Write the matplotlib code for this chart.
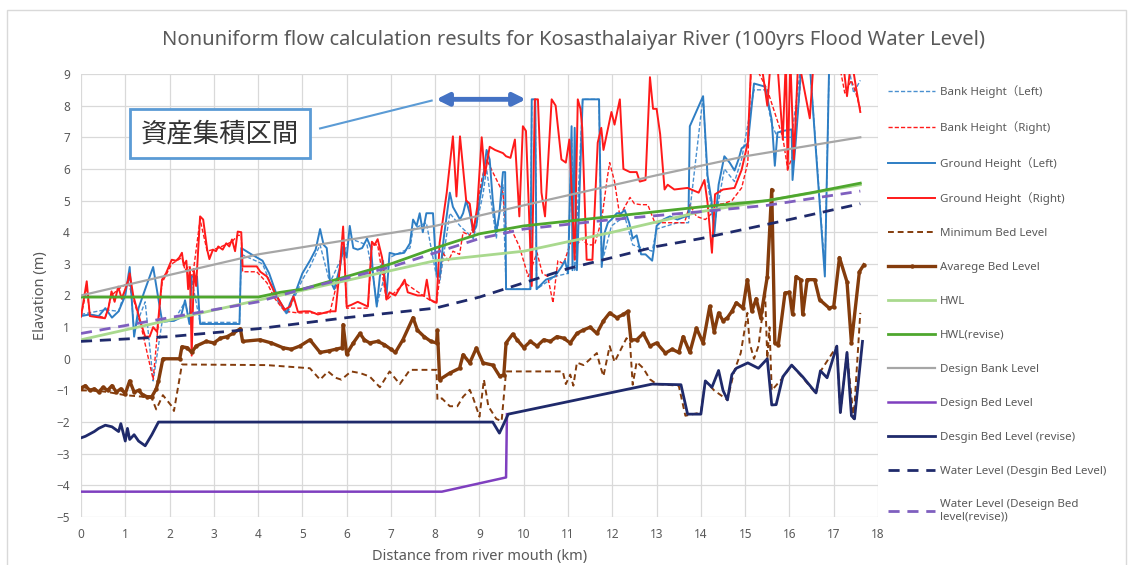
import matplotlib.pyplot as plt
from matplotlib.patches import Rectangle

plt.rcParams['font.family'] = ['Noto Sans', 'Noto Sans CJK JP', 'DejaVu Sans']

# distance from river mouth (km) / elevation (m) for each series
bank_left_x = [0, 0.55, 0.85, 1.1, 1.2, 1.45, 1.63, 1.83, 2.1, 2.35, 2.45, 2.5, 2.69, 3.58, 3.62,
               4.1, 4.45, 4.65, 5.0, 5.17, 5.4, 5.62, 5.92, 6.07, 6.46, 6.6, 6.68, 6.97, 7.43, 7.5,
               7.8, 8.03, 8.1, 8.33, 8.56, 8.86, 9.08, 9.16, 9.38, 9.53, 9.6, 10.15, 10.18, 10.26,
               10.29, 10.7, 11.0, 11.08, 11.15, 11.33, 11.7, 11.76, 11.98, 12.28, 12.46, 12.9, 13.0,
               13.47, 13.72, 14.05, 14.15, 14.3, 14.53, 14.76, 14.92, 15.2, 15.45, 15.6, 15.73,
               16.05, 16.28, 16.45, 16.8, 16.9, 17.3, 17.45, 17.6]
bank_left_y = [1.4, 1.55, 1.5, 2.6, 0.9, 1.8, -0.7, 1.15, 1.2, 1.8, 1.2, 2.5, 1.15, 1.15, 3.3,
               3.0, 1.8, 1.4, 2.5, 2.9, 3.6, 2.4, 3.3, 3.8, 3.6, 2.6, 1.7, 3.2, 3.5, 4.1,
               4.3, 2.6, 2.4, 4.6, 4.2, 3.8, 5.2, 6.0, 3.8, 5.5, 2.2, 2.2, 8.0, 8.0,
               2.2, 2.6, 2.7, 7.0, 2.8, 8.2, 8.2, 3.0, 4.2, 4.5, 3.6, 3.4, 4.1,
               4.3, 4.3, 8.3, 5.6, 4.2, 6.0, 5.6, 6.3, 8.5, 8.5, 7.4, 7.0,
               7.0, 9.5, 9.5, 2.8, 9.5, 9.5, 8.4, 8.8]

bank_right_x = [0, 0.13, 0.2, 0.55, 0.69, 0.84, 1.07, 1.18, 1.33, 1.63, 1.83, 2.05, 2.28, 2.35,
                2.42, 2.5, 2.55, 2.69, 2.85, 3.1, 3.41, 3.54, 3.62, 3.65, 3.97, 4.2, 4.38, 4.6,
                4.9, 5.62, 5.85, 5.92, 6.0, 6.48, 6.57, 6.7, 6.9, 7.31, 7.88, 8.03, 8.17, 8.3,
                8.4, 8.55, 8.63, 8.78, 8.9, 9.05, 9.16, 9.3, 9.53, 9.6, 9.75, 9.9, 10.1, 10.3,
                10.42, 10.54, 10.66, 10.77, 10.9, 11.08, 11.2, 11.3, 11.45, 11.6, 11.7, 11.77,
                11.88, 11.94, 12.05, 12.17, 12.28, 12.4, 12.5, 12.65, 12.8, 12.96, 13.3, 13.63,
                13.75, 13.9, 14.1, 14.25, 14.32, 14.5, 14.7, 14.92, 15.06, 15.14, 15.5, 15.85,
                15.96, 16.1, 16.3, 17.1, 17.25, 17.4, 17.5, 17.6]
bank_right_y = [1.35, 2.2, 1.4, 1.3, 2.0, 2.2, 2.4, 1.9, 1.2, -0.65, 2.4, 3.0, 3.2, 2.8,
                2.9, 2.6, 2.9, 4.4, 3.4, 3.5, 3.7, 3.9, 3.9, 2.75, 2.75, 2.4, 1.9, 1.5,
                1.45, 1.45, 2.8, 4.0, 1.6, 1.6, 3.6, 3.6, 1.85, 2.4, 1.85, 1.75, 3.35, 3.1,
                3.4, 3.3, 4.0, 3.9, 4.3, 5.66, 6.3, 5.9, 5.25, 4.1, 4.0, 3.55, 2.6, 3.35,
                2.7, 2.6, 1.77, 3.1, 3.0, 3.77, 3.6, 3.8, 3.6, 3.6, 4.1, 4.5,
                5.66, 6.2, 5.6, 4.5, 4.8, 5.1, 4.9, 4.87, 4.87, 4.3, 4.3, 4.3,
                4.87, 4.5, 4.4, 4.6, 4.87, 4.9, 5.0, 5.4, 6.2, 9.5, 8.5, 7.0,
                6.0, 6.5, 9.5, 9.5, 8.4, 8.8, 8.4, 7.9]

ground_left_x = [0.0, 0.2, 0.4, 0.55, 0.7, 0.85, 1.0, 1.1, 1.2, 1.3, 1.45, 1.63, 1.83, 2.1, 2.25,
                 2.35, 2.45, 2.5, 2.62, 2.69, 3.58, 3.62, 3.85, 4.1, 4.25, 4.45, 4.65, 4.72, 4.87,
                 5.0, 5.17, 5.3, 5.4, 5.48, 5.55, 5.62, 5.72, 5.85, 5.92, 6.0, 6.07, 6.15, 6.25,
                 6.35, 6.46, 6.55, 6.6, 6.68, 6.75, 6.82, 6.9, 6.97, 7.1, 7.3, 7.43, 7.5, 7.58,
                 7.65, 7.72, 7.8, 7.95, 8.03, 8.1, 8.2, 8.33, 8.4, 8.56, 8.63, 8.7, 8.78, 8.86,
                 8.93, 9.0, 9.08, 9.16, 9.23, 9.3, 9.38, 9.45, 9.53, 9.58, 9.6, 10.15, 10.18,
                 10.26, 10.29, 10.5, 10.7, 10.85, 10.93, 11.0, 11.08, 11.1, 11.15, 11.2, 11.33,
                 11.7, 11.76, 11.83, 11.9, 11.98, 12.1, 12.2, 12.28, 12.38, 12.46, 12.55, 12.65,
                 12.75, 12.9, 12.95, 13.0, 13.15, 13.3, 13.47, 13.65, 13.72, 13.75, 14.05, 14.15,
                 14.24, 14.3, 14.4, 14.53, 14.65, 14.76, 14.85, 14.92, 15.06, 15.2, 15.45, 15.6,
                 15.67, 15.73, 15.85, 16.05, 16.07, 16.15, 16.28, 16.45, 16.8, 16.9, 17.1, 17.4,
                 17.6]
ground_left_y = [1.35, 1.4, 1.35, 1.6, 1.3, 1.5, 2.0, 2.9, 0.7, 1.6, 2.2, 2.9, 1.2, 1.2, 1.3,
                 1.85, 1.1, 2.6, 2.6, 1.1, 1.1, 3.5, 3.3, 3.1, 2.7, 1.9, 1.45, 1.75, 2.2,
                 2.7, 3.1, 3.45, 4.1, 3.6, 3.5, 2.5, 2.2, 2.9, 3.55, 3.2, 4.2, 3.5, 3.45,
                 3.5, 3.8, 3.5, 2.6, 1.65, 2.6, 3.1, 2.0, 3.35, 3.3, 3.35, 3.65, 4.4, 4.2,
                 4.6, 4.0, 4.6, 4.6, 2.7, 2.6, 3.9, 5.25, 4.8, 4.4, 4.6, 5.0, 4.6, 4.0,
                 4.2, 5.0, 5.65, 6.6, 6.3, 5.0, 4.0, 4.6, 5.9, 5.9, 2.2, 2.2, 8.2,
                 8.2, 2.2, 2.5, 2.6, 2.9, 3.1, 2.7, 7.35, 2.8, 7.3, 2.8, 8.2,
                 8.2, 2.9, 4.0, 4.3, 4.4, 4.6, 4.6, 4.7, 4.3, 3.8, 3.9, 3.3,
                 3.3, 3.1, 3.6, 4.2, 4.4, 4.5, 4.4, 4.5, 4.5, 7.35, 8.3, 5.8,
                 5.0, 3.9, 5.5, 6.4, 6.2, 5.95, 6.3, 6.65, 6.8, 8.7, 8.6, 7.55,
                 6.1, 7.15, 7.2, 7.25, 5.65, 7.0, 9.5, 9.5, 2.6, 9.5, 9.5, 9.5,
                 9.5]

ground_right_x = [0.0, 0.13, 0.2, 0.54, 0.62, 0.69, 0.76, 0.84, 0.92, 1.0, 1.07, 1.1, 1.18, 1.33,
                  1.45, 1.55, 1.63, 1.72, 1.83, 1.92, 2.05, 2.15, 2.22, 2.28, 2.32, 2.38, 2.42,
                  2.46, 2.5, 2.55, 2.6, 2.69, 2.76, 2.85, 2.9, 2.98, 3.05, 3.1, 3.2, 3.28, 3.35,
                  3.41, 3.48, 3.54, 3.62, 3.65, 3.97, 4.05, 4.2, 4.38, 4.6, 4.72, 4.8, 4.9, 5.05,
                  5.17, 5.35, 5.62, 5.75, 5.85, 5.92, 5.96, 6.0, 6.1, 6.25, 6.4, 6.48, 6.57, 6.63,
                  6.7, 6.8, 6.9, 6.97, 7.1, 7.31, 7.38, 7.6, 7.75, 7.81, 7.88, 8.03, 8.1, 8.26,
                  8.4, 8.48, 8.56, 8.63, 8.7, 8.78, 8.86, 8.95, 9.05, 9.12, 9.23, 9.35, 9.53, 9.6,
                  9.7, 9.8, 9.9, 9.98, 10.05, 10.18, 10.25, 10.32, 10.4, 10.48, 10.63, 10.72,
                  10.85, 10.95, 11.03, 11.15, 11.22, 11.28, 11.32, 11.42, 11.55, 11.67, 11.75,
                  11.8, 11.98, 12.05, 12.17, 12.25, 12.4, 12.55, 12.62, 12.75, 12.85, 12.92, 13.0,
                  13.08, 13.18, 13.25, 13.4, 13.7, 13.95, 14.08, 14.15, 14.25, 14.32, 14.5, 14.76,
                  14.92, 15.06, 15.14, 15.35, 15.5, 15.58, 15.72, 15.85, 15.92, 15.96, 16.02,
                  16.1, 16.2, 16.46, 16.55, 17.2, 17.3, 17.4, 17.5, 17.6]
ground_right_y = [1.33, 2.45, 1.35, 1.28, 1.6, 2.13, 1.8, 2.28, 1.9, 2.2, 2.5, 2.7, 2.0, 1.23,
                  0.7, 0.7, 1.0, 0.85, 2.5, 2.7, 3.13, 3.1, 3.2, 3.35, 2.95, 3.1, 2.2,
                  2.9, 0.1, 2.8, 2.3, 4.5, 4.4, 3.45, 3.15, 3.45, 3.4, 3.55, 3.45, 3.65, 3.55,
                  3.77, 3.4, 4.02, 4.0, 2.92, 2.92, 2.75, 2.6, 2.08, 1.55, 1.65, 1.97, 1.48, 1.5,
                  1.5, 1.4, 1.5, 1.5, 2.92, 4.18, 2.9, 1.65, 1.7, 1.8, 1.7, 1.65, 3.7, 3.6,
                  3.78, 3.2, 1.87, 2.1, 2.0, 2.5, 2.1, 2.0, 2.0, 2.5, 1.87, 1.77, 3.67, 5.25,
                  7.03, 5.13, 7.03, 6.0, 5.0, 4.9, 4.0, 4.8, 7.0, 5.8, 6.7, 6.6, 6.5, 6.4,
                  6.35, 6.93, 4.5, 7.35, 7.2, 2.3, 8.2, 8.2, 5.25, 4.5, 8.2, 8.0,
                  6.3, 6.2, 6.93, 3.13, 8.2, 7.9, 7.3, 3.13, 3.13, 6.83, 7.3,
                  6.6, 7.8, 7.4, 8.2, 6.0, 5.9, 5.9, 5.6, 5.65, 8.9, 7.9, 7.9,
                  7.1, 5.35, 5.5, 5.35, 5.4, 5.25, 5.65, 4.93, 3.35, 5.2, 5.35, 5.4,
                  5.97, 6.83, 9.5, 9.5, 8.0, 9.5, 9.5, 6.93, 9.5, 5.97, 9.5,
                  6.3, 9.5, 7.6, 9.5, 9.5, 8.3, 9.5, 8.6, 7.8]

min_bed_x = [0, 0.3, 0.6, 1.0, 1.4, 1.6, 1.7, 1.85, 2.05, 2.1, 2.28, 4.2, 5.17, 5.4, 5.58, 5.75,
             5.88, 6.1, 6.3, 6.52, 6.75, 6.97, 7.2, 7.43, 8.03, 8.05, 8.15, 8.33, 8.5, 8.63,
             8.78, 8.86, 9.0, 9.1, 9.2, 9.38, 9.5, 9.6, 10.88, 10.95, 11.05, 11.12, 11.2, 11.35,
             11.65, 11.72, 11.8, 11.94, 12.05, 12.32, 12.4, 12.46, 12.55, 12.7, 12.85, 13.0,
             13.5, 13.65, 14.0, 14.1, 14.3, 14.6, 14.75, 14.9, 15.05, 15.1, 15.2, 15.3, 15.45,
             15.5, 15.55, 15.6, 15.85, 16.05, 16.3, 16.6, 16.7, 17.07, 17.15, 17.3, 17.45, 17.6]
min_bed_y = [-1.0, -1.0, -1.05, -1.15, -1.2, -1.25, -1.6, -1.15, -1.5, -1.65, -0.18, -0.2, -0.3,
             -0.66, -0.4, -0.6, -0.66, -0.4, -0.45, -0.56, -0.9, -0.4, -0.8, -0.35, -0.35, -1.3,
             -1.25, -1.5, -1.5, -1.2, -0.98, -1.25, -1.83, -0.66, -1.5, -1.9, -1.97, -0.4, -0.4,
             -0.8, -0.5, -0.85, -0.12, -0.2, 0.18, -0.2, -0.55, 0.4, -0.1, 0.65, 0.5, -0.82,
             -0.1, -0.3, -0.65, -0.8, -0.85, -1.8, -1.7, -0.7, -1.0, -1.3, -0.4, 0.18, 1.45,
             0.5, 0.0, 0.4, 2.08, 0.0, 1.0, -1.0, -0.6, -0.2, -0.6, -1.1, -0.4, 0.4, -1.7, 0.2,
             -1.9, 1.45]

avg_bed_x = [0, 0.1, 0.2, 0.3, 0.4, 0.5, 0.6, 0.7, 0.8, 0.9, 1.0, 1.1, 1.2, 1.3, 1.4, 1.5, 1.6,
             1.7, 1.75, 1.85, 2.23, 2.28, 2.4, 2.5, 2.6, 2.83, 3.0, 3.15, 3.3, 3.43, 3.6, 3.65,
             4.04, 4.3, 4.56, 4.75, 4.94, 5.17, 5.4, 5.6, 5.75, 5.9, 5.92, 6.0, 6.15, 6.3, 6.4,
             6.52, 6.7, 6.85, 7.0, 7.1, 7.27, 7.5, 7.6, 7.75, 7.9, 8.03, 8.05, 8.1, 8.33, 8.55,
             8.63, 8.78, 8.93, 9.08, 9.3, 9.46, 9.55, 9.6, 9.75, 9.85, 10.0, 10.15, 10.3, 10.45,
             10.6, 10.75, 10.9, 11.05, 11.2, 11.33, 11.5, 11.65, 11.8, 11.94, 12.1, 12.25, 12.35,
             12.42, 12.55, 12.7, 12.85, 13.0, 13.2, 13.35, 13.5, 13.6, 13.75, 13.9, 14.05, 14.2,
             14.3, 14.4, 14.5, 14.6, 14.7, 14.8, 14.95, 15.05, 15.15, 15.25, 15.35, 15.5, 15.6,
             15.67, 15.75, 15.9, 16.0, 16.07, 16.15, 16.25, 16.3, 16.4, 16.57, 16.68, 16.9, 17.0,
             17.13, 17.3, 17.4, 17.58, 17.68]
avg_bed_y = [-0.92, -0.85, -1.0, -0.95, -1.05, -0.9, -1.0, -0.85, -1.05, -0.95, -1.1, -0.7, -1.05,
             -1.0, -1.15, -1.2, -1.2, -0.95, -0.7, 0.0, 0.0, 0.38, 0.35, 0.2, 0.4, 0.55, 0.5, 0.65,
             0.7, 0.8, 0.95, 0.55, 0.6, 0.5, 0.35, 0.3, 0.4, 0.6, 0.2, 0.25, 0.3, 0.35, 1.08, 0.15,
             0.5, 0.8, 0.6, 0.5, 0.55, 0.45, 0.3, 0.2, 0.6, 1.3, 0.9, 0.7, 0.55, 0.5, 0.9, -0.66,
             -0.45, -0.3, 0.13, -0.13, 0.34, -0.13, -0.2, -0.56, -0.5, 0.5, 0.78, 0.6, 0.35, 0.55,
             0.4, 0.6, 0.55, 0.7, 0.65, 0.5, 0.8, 0.9, 1.0, 0.8, 1.2, 1.45, 1.3, 1.4, 1.5, 0.6,
             0.6, 0.8, 0.4, 0.5, 0.18, 0.3, 0.2, 0.7, 0.2, 0.97, 0.5, 1.66, 0.85, 1.45, 1.2, 1.3,
             1.5, 1.77, 1.6, 2.5, 1.5, 1.9, 1.3, 2.6, 5.35, 0.5, 0.45, 2.08, 2.1, 1.4, 2.6, 2.5,
             1.4, 2.5, 2.5, 1.87, 1.6, 1.65, 3.2, 2.43, 0.5, 2.75, 2.97]

hwl_x = [0, 4.8, 8, 10, 12, 14, 15.5, 17.6]
hwl_y = [0.6, 2.1, 3.1, 3.4, 4.0, 4.65, 5.0, 5.5]

hwl_rev_x = [0, 4.0, 4.5, 5, 6, 7, 8, 9, 10, 11, 12, 13, 14, 15.5, 16.5, 17.6]
hwl_rev_y = [1.95, 1.95, 2.1, 2.2, 2.6, 3.0, 3.5, 3.95, 4.2, 4.35, 4.5, 4.65, 4.8, 5.0, 5.25, 5.55]

design_bank_x = [0, 4, 8, 10, 13, 15, 17.6]
design_bank_y = [2.0, 3.3, 4.2, 4.85, 5.8, 6.4, 7.0]

design_bed_x = [0, 8.15, 9.6, 9.62]
design_bed_y = [-4.2, -4.2, -3.75, -1.75]

design_bed_rev_x = [0, 0.1, 0.3, 0.4, 0.55, 0.7, 0.85, 0.9, 1.0, 1.05, 1.1, 1.2, 1.3, 1.45, 1.6,
                    1.75, 9.3, 9.45, 9.65, 12.9, 13.55, 13.7, 14.0, 14.1, 14.25, 14.4, 14.5, 14.6,
                    14.7, 14.8, 15.06, 15.3, 15.5, 15.6, 15.7, 15.85, 16.05, 16.3, 16.6, 16.7,
                    16.85, 17.07, 17.15, 17.3, 17.4, 17.47, 17.65]
design_bed_rev_y = [-2.5, -2.45, -2.3, -2.2, -2.1, -2.15, -2.3, -2.05, -2.6, -2.2, -2.55, -2.4,
                    -2.6, -2.75, -2.4, -2.0, -2.0, -2.35, -1.75, -0.8, -0.82, -1.75, -1.75, -0.7,
                    -0.9, -0.37, -1.0, -1.3, -0.5, -0.3, -0.13, -0.3, 0.0, -1.46, -1.45, -0.57,
                    -0.2, -0.57, -1.08, -0.38, -0.6, 0.4, -1.7, 0.2, -1.8, -1.9, 0.55]

wl_x = [0, 2, 4, 6, 8, 9, 10, 11, 12, 13, 14, 15, 16, 17.6]
wl_y = [0.55, 0.7, 0.95, 1.3, 1.6, 1.95, 2.4, 2.85, 3.2, 3.55, 3.8, 4.1, 4.4, 4.9]

wl_rev_x = [0, 2, 4, 5, 6, 7, 8, 9, 10, 12, 14, 15.5, 17.6]
wl_rev_y = [0.8, 1.3, 1.8, 2.2, 2.55, 2.9, 3.35, 3.8, 4.1, 4.4, 4.65, 4.85, 5.3]

BLUE = '#2E7EC4'
RED = '#FF1A1A'
BROWN = '#843C0C'
GRAY_TXT = '#595959'

fig = plt.figure(figsize=(11.31, 5.65), dpi=100)
ax = fig.add_axes([0.0716, 0.085, 0.7047, 0.784])

series = [
    (bank_left_x, bank_left_y, dict(color='#4A90D0', lw=1.0, ls=(0, (3, 1.5))), 'Bank Height（Left)'),
    (bank_right_x, bank_right_y, dict(color=RED, lw=1.0, ls=(0, (3, 1.5))), 'Bank Height（Right)'),
    (ground_left_x, ground_left_y, dict(color=BLUE, lw=1.4), 'Ground Height（Left)'),
    (ground_right_x, ground_right_y, dict(color=RED, lw=1.4), 'Ground Height（Right)'),
    (min_bed_x, min_bed_y, dict(color=BROWN, lw=1.4, ls=(0, (3, 2))), 'Minimum Bed Level'),
    (avg_bed_x, avg_bed_y, dict(color=BROWN, lw=2.4, marker='o', ms=2.2), 'Avarege Bed Level'),
    (hwl_x, hwl_y, dict(color='#A9D98E', lw=2.0), 'HWL'),
    (hwl_rev_x, hwl_rev_y, dict(color='#4EA72E', lw=2.0), 'HWL(revise)'),
    (design_bank_x, design_bank_y, dict(color='#A6A6A6', lw=1.6), 'Design Bank Level'),
    (design_bed_x, design_bed_y, dict(color='#7F3FBF', lw=1.8), 'Design Bed Level'),
    (design_bed_rev_x, design_bed_rev_y, dict(color='#1F2A6B', lw=2.0), 'Desgin Bed Level (revise)'),
    (wl_x, wl_y, dict(color='#1F2A6B', lw=2.0, ls=(0, (4, 2.8))), 'Water Level (Desgin Bed Level)'),
    (wl_rev_x, wl_rev_y, dict(color='#7F5FBF', lw=2.0, ls=(0, (4, 2.8))),
     'Water Level (Deseign Bed\nlevel(revise))'),
]

handles = []
for xs, ys, style, label in series:
    ln, = ax.plot(xs, ys, label=label, **style)
    handles.append(ln)

ax.set_xlim(0, 18)
ax.set_ylim(-5, 9)
ax.set_xticks(range(0, 19))
ax.set_yticks(range(-5, 10))
ax.grid(True, color='#D9D9D9', lw=0.9)
ax.set_axisbelow(True)
for s in ax.spines.values():
    s.set_visible(False)
ax.tick_params(length=0, labelsize=8.5, colors=GRAY_TXT, pad=8)
ax.set_xlabel('Distance from river mouth (km)', fontsize=10.5, color=GRAY_TXT, labelpad=6)
ax.set_ylabel('Elavation (m)', fontsize=10.5, color=GRAY_TXT, labelpad=6)

fig.text(0.507, 0.929, 'Nonuniform flow calculation results for Kosasthalaiyar River (100yrs Flood Water Level)',
         ha='center', va='center', fontsize=14.5, color=GRAY_TXT)

fig.legend(handles=handles, loc='upper left', bbox_to_anchor=(0.781, 0.857), frameon=False,
           fontsize=8.3, labelcolor=GRAY_TXT, labelspacing=1.98, handlelength=4.1,
           handletextpad=0.45, borderaxespad=0)

# annotation for the asset-concentrated section
ax.text(3.14, 7.12, '資産集積区間', fontsize=19, ha='center', va='center', color='#333333',
        family=['Noto Sans CJK JP'],
        bbox=dict(boxstyle='square,pad=0.42', fc='white', ec='#5B9BD5', lw=2))
ax.plot([5.4, 7.92], [7.28, 8.16], color='#5B9BD5', lw=1.5)
ax.annotate('', xy=(10.05, 8.2), xytext=(8.02, 8.2),
            arrowprops=dict(arrowstyle='<|-|>', color='#4472C4', lw=3.5, mutation_scale=18,
                            shrinkA=0, shrinkB=0))

fig.add_artist(Rectangle((0.006, -0.01), 0.99, 0.992, transform=fig.transFigure,
                         fill=False, ec='#D9D9D9', lw=1.0))

fig.savefig('out.png', dpi=100)
plt.close(fig)
